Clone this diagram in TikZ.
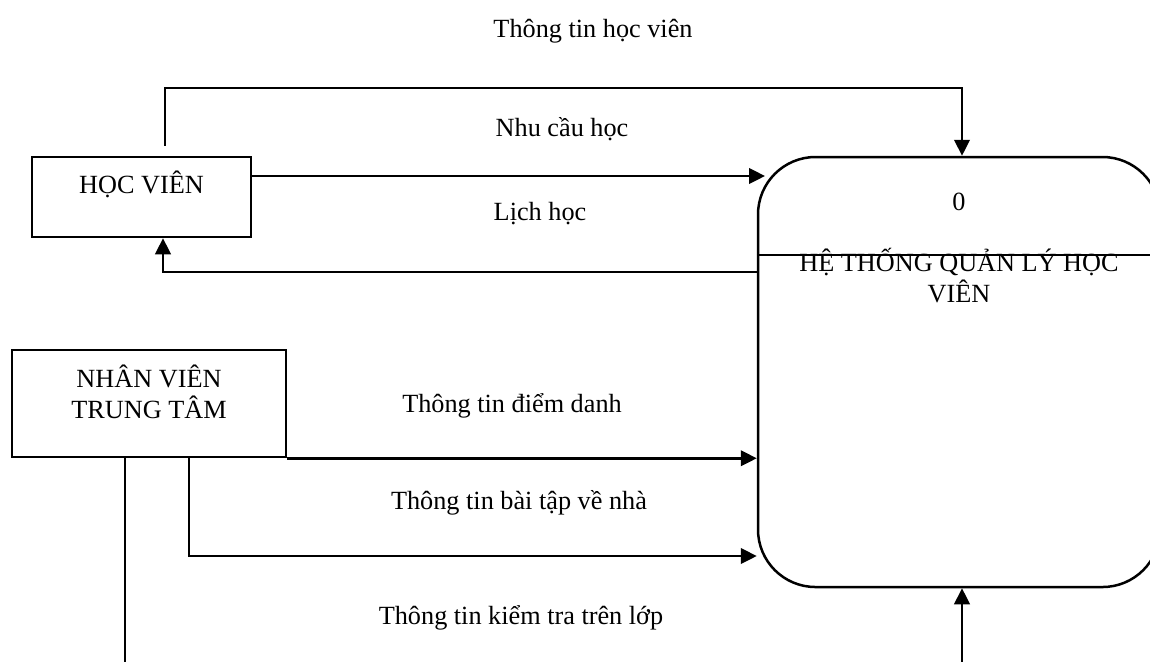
\documentclass[tikz,border=0pt]{standalone}
\usepackage{fontspec}
\setmainfont{Liberation Serif}
\usetikzlibrary{positioning,arrows.meta,calc}

\begin{document}
\begin{tikzpicture}[x=0.4pt,y=-0.4pt,line width=1pt,
  >={Triangle[length=6.4pt,width=6.2pt]},
  font=\fontsize{10.5}{12.4}\selectfont]
\tikzstyle{ent}=[draw, rectangle, inner sep=0pt]
\tikzstyle{proc}=[draw, rectangle, rounded corners=23pt, minimum width=160.8pt, minimum height=172pt]
\tikzstyle{lbl}=[inner sep=0pt, anchor=base]
\useasboundingbox (0,0) rectangle (1150,661);
% external entities
\node[ent, minimum width=87.6pt, minimum height=32pt] (hv) at (141.5,197) {};
\node[lbl] (hvtxt) at (141.5,193) {HỌC VIÊN};
\node[ent, minimum width=109.6pt, minimum height=42.8pt] (nv) at (149,403.5) {};
\node[lbl, align=center] (nvtxt) at (149,418) {NHÂN VIÊN\\TRUNG TÂM};
% process
\node[proc] (pr) at (959,372) {};
\node[lbl] (prnum) at (959,210) {0};
\node[lbl, align=center] (prname) at (959,302) {HỆ THỐNG QUẢN LÝ HỌC\\VIÊN};
\draw (pr.west |- 0,255) -- (pr.east |- 0,255);
% flows
\coordinate (hvtop) at ($(hv.north)+(23.5,-10)$);
\coordinate (ncend) at (765,176);
\draw[->] (hvtop) -- (hvtop |- 0,88) -| ($(pr.north)+(3,0)$);
\draw[->] (hv.east |- ncend) -- (ncend);
\draw[->] (pr.west |- 0,272) -| ($(hv.south)+(21.5,0)$);
\draw[->] (nv.south east) -- (pr.west |- nv.south east);
\draw[->] ($(nv.south)+(40,0)$) |- (pr.west |- 0,556);
\draw[->] ($(nv.south)+(-24,0)$) -- ++(0,240) -| ($(pr.south)+(3,0)$);
% flow labels
\node[lbl] (l1) at (593,37) {Thông tin học viên};
\node[lbl] (l2) at (562,136) {Nhu cầu học};
\node[lbl] (l3) at (540,220) {Lịch học};
\node[lbl] (l4) at (512,412) {Thông tin điểm danh};
\node[lbl] (l5) at (519,509) {Thông tin bài tập về nhà};
\node[lbl] (l6) at (521,624) {Thông tin kiểm tra trên lớp};
\end{tikzpicture}
\end{document}
